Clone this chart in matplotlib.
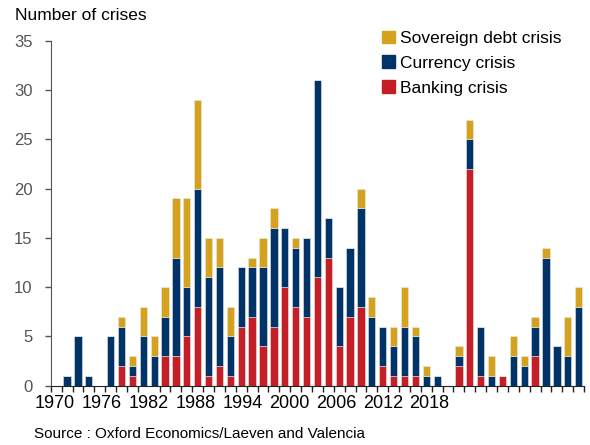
import numpy as np
import matplotlib
matplotlib.use("Agg")
import matplotlib.pyplot as plt
from matplotlib.patches import Patch

plt.rcParams["font.family"] = ["Liberation Sans", "DejaVu Sans"]

# --- Datos (1970-2017) ---
anios = list(range(1970, 2018))
banking = [0, 0, 0, 0, 0, 2, 1, 0, 0, 3, 3, 5, 8, 1, 2, 1, 6, 7, 4, 6, 10, 8, 7, 11,
           13, 4, 7, 8, 0, 2, 1, 1, 1, 0, 0, 0, 2, 22, 1, 0, 1, 0, 0, 3, 0, 0, 0, 0]
currency = [1, 5, 1, 0, 5, 4, 1, 5, 3, 4, 10, 5, 12, 10, 10, 4, 6, 5, 8, 10, 6, 6, 8, 20,
            4, 6, 7, 10, 7, 4, 3, 5, 4, 1, 1, 0, 1, 3, 5, 1, 0, 3, 2, 3, 13, 4, 3, 8]
sovereign = [0, 0, 0, 0, 0, 1, 1, 3, 2, 3, 6, 9, 9, 4, 3, 3, 0, 1, 3, 2, 0, 1, 0, 0,
             0, 0, 0, 2, 2, 0, 2, 4, 1, 1, 0, 0, 1, 2, 0, 2, 0, 2, 1, 1, 1, 0, 4, 2]

etiquetas_x = ["1970", "1976", "1982", "1988", "1994", "2000", "2006", "2012", "2018"]

c_gold = "#D4A21F"
c_navy = "#003468"
c_red = "#C41E26"

# --- Gráfica ---
fig = plt.figure(figsize=(5.9, 4.45), dpi=100)
ax = fig.add_axes([0.086, 0.1333, 0.904, 0.7752])

x = np.arange(len(anios))
banking = np.array(banking)
currency = np.array(currency)
sovereign = np.array(sovereign)

kw = dict(width=0.67, edgecolor="#e8e8e8", linewidth=0.4)
ax.bar(x, banking, color=c_red, **kw)
ax.bar(x, currency, bottom=banking, color=c_navy, **kw)
ax.bar(x, sovereign, bottom=banking + currency, color=c_gold, **kw)

ax.set_xlim(-1.5, len(anios) - 0.5)
ax.set_ylim(0, 35)
ax.set_yticks(range(0, 36, 5))
ax.tick_params(axis="y", direction="out", length=4, width=1, colors="#555555",
               labelsize=12, pad=9)

# etiquetas del eje x (separadas como en el original)
pos_labels = -1.1 + 4.3 * np.arange(len(etiquetas_x))
ax.set_xticks(pos_labels)
ax.set_xticklabels(etiquetas_x, fontsize=13)
ax.tick_params(axis="x", which="major", length=0, pad=7)
ax.set_xticks(np.arange(-1.5, len(anios)), minor=True)
ax.tick_params(axis="x", which="minor", direction="out", length=4, width=1, color="#222222")

for s in ["top", "right"]:
    ax.spines[s].set_visible(False)
ax.spines["left"].set_color("#555555")
ax.spines["bottom"].set_color("#222222")

fig.text(0.025, 0.965, "Number of crises", fontsize=12.5, va="center", ha="left")
fig.text(0.058, 0.025, "Source : Oxford Economics/Laeven and Valencia", fontsize=11,
         va="center", ha="left")

handles = [Patch(color=c_gold, label="Sovereign debt crisis"),
           Patch(color=c_navy, label="Currency crisis"),
           Patch(color=c_red, label="Banking crisis")]
fig.legend(handles=handles, loc="upper left", bbox_to_anchor=(0.635, 0.947),
           frameon=False, fontsize=12.5, handlelength=0.75, handleheight=0.75,
           handletextpad=0.3, labelspacing=0.55, borderaxespad=0)

fig.savefig("out.png", dpi=100)
